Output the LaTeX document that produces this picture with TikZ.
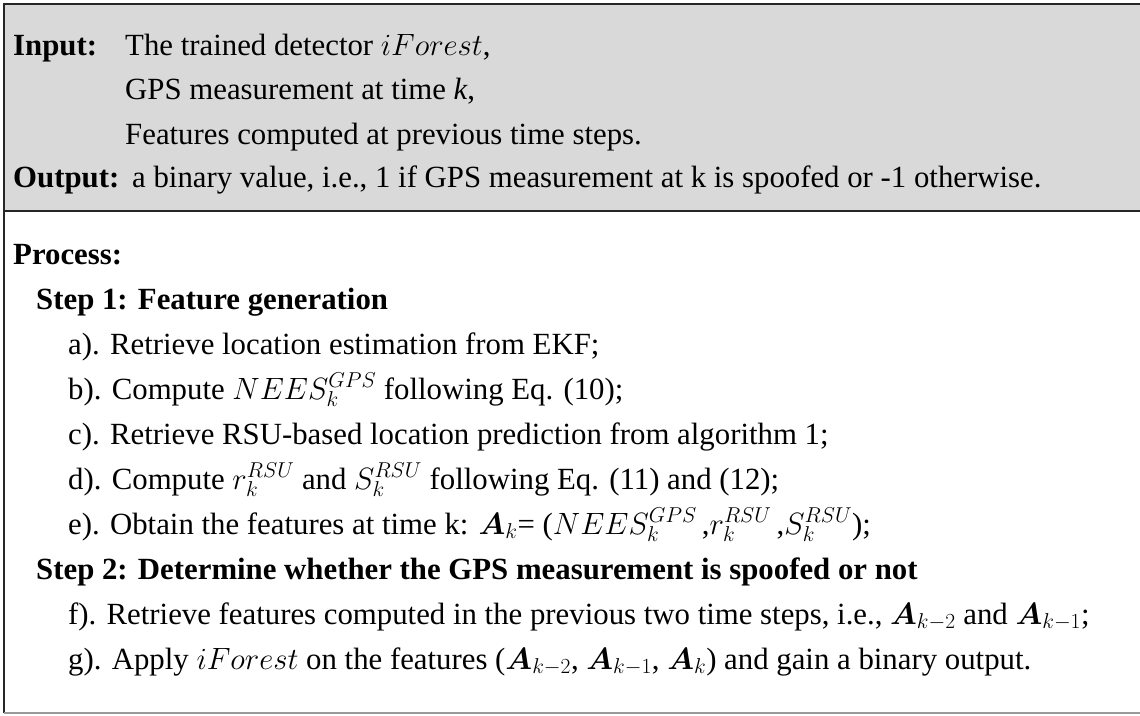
\documentclass[tikz,border=0pt]{standalone}
\usepackage{fix-cm}
\usepackage{amsmath,bm}
\usepackage{fontspec}
\setmainfont{Liberation Serif}
\DeclareMathSizes{30.8}{30.8}{21.5}{16}
\newcommand{\bodysize}{\fontsize{30.8}{36}\selectfont}
\tikzset{
  txt/.style={anchor=base west, inner sep=0pt, font=\bodysize},
  hd/.style={txt, font=\bodysize\bfseries},
  frame/.style={line width=2pt, draw=black!85},
}
\begin{document}
\begin{tikzpicture}[x=1pt, y=-1pt]
\useasboundingbox (0,0) rectangle (1140,715);
% header panel
\fill[black!15] (4,4) rectangle (1140,211);
\draw[frame] (1140,4) -- (4,4) -- (4,211) -- (1140,211);
% process panel
\draw[frame] (4,211) -- (4,713);
\draw[line width=1.5pt, draw=black!40] (4,713) -- (1140,713);

% header text
\node[hd]  (inlab)  at (13,55)  {Input:};
\node[txt] (in1)    at (125,55) {The trained detector $iForest$,};
\node[txt] (in2)    at (125,99) {GPS measurement at time \textit{k},};
\node[txt] (in3)    at (125,144) {Features computed at previous time steps.};
\node[hd]  (outlab) at (13,187) {Output:};
\node[txt] (out)    at (132,187) {a binary value, i.e., 1 if GPS measurement at k is spoofed or -1 otherwise.};

% process text
\node[hd]  (proc)  at (13,264) {Process:};
\node[hd]  (s1)    at (36,309) {Step 1: Feature generation};
\node[txt] (a)     at (68,354) {a). Retrieve location estimation from EKF;};
\node[txt] (b)     at (68,399) {b). Compute $NEES_k^{GPS}$ following Eq. (10);};
\node[txt] (c)     at (68,444) {c). Retrieve RSU-based location prediction from algorithm 1;};
\node[txt] (d)     at (68,489) {d). Compute $r_k^{RSU}$ and $S_k^{RSU}$ following Eq. (11) and (12);};
\node[txt] (e)     at (68,534) {e). Obtain the features at time k: $\bm{A}_k$= ($NEES_k^{GPS}$\,,$r_k^{RSU}$\,,$S_k^{RSU}$);};
\node[hd]  (s2)    at (36,579) {Step 2: Determine whether the GPS measurement is spoofed or not};
\node[txt] (f)     at (68,624) {f). Retrieve features computed in the previous two time steps, i.e., $\bm{A}_{k-2}$ and $\bm{A}_{k-1}$;};
\node[txt] (g)     at (68,669) {g). Apply $iForest$ on the features ($\bm{A}_{k-2}$, $\bm{A}_{k-1}$, $\bm{A}_k$) and gain a binary output.};
\end{tikzpicture}
\end{document}
